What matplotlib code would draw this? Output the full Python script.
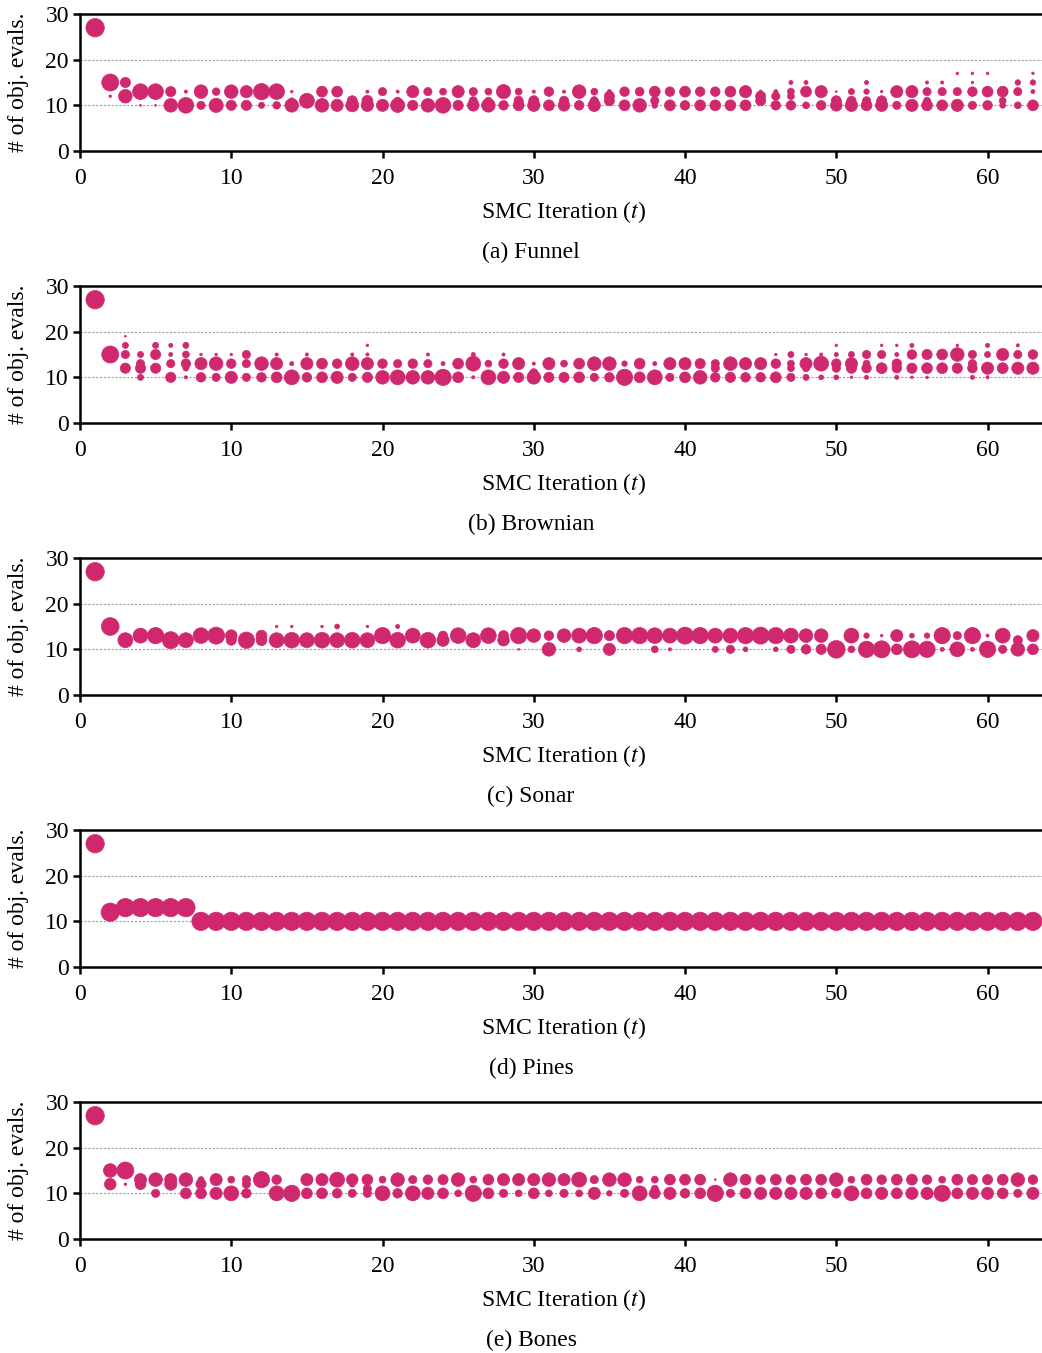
import matplotlib
matplotlib.use("Agg")
import matplotlib.pyplot as plt

plt.rcParams['font.family'] = 'Liberation Serif'
plt.rcParams['mathtext.fontset'] = 'stix'

# each panel: one entry per SMC iteration t=1..63, list of (# obj. evals, % of particles)
funnel = [
    [(27, 100)], [(15, 86), (12, 2)], [(15, 31), (12, 55)], [(13, 73), (10, 1)],
    [(13, 73), (10, 1)], [(13, 31), (10, 55)], [(13, 3), (10, 73)], [(13, 55), (10, 20)],
    [(13, 17), (10, 60)], [(13, 55), (10, 31)], [(13, 44), (10, 31)], [(13, 79), (10, 11)],
    [(13, 73), (10, 17)], [(13, 2), (11, 10), (10, 55)], [(11, 66)], [(13, 35), (10, 55)],
    [(13, 35), (10, 44)], [(11, 30), (10, 50)], [(13, 3), (11, 35), (10, 45)], [(13, 20), (10, 44)],
    [(13, 3), (11, 15), (10, 60)], [(13, 44), (10, 31)], [(13, 20), (10, 55)], [(13, 14), (10, 73)],
    [(13, 44), (10, 31)], [(13, 20), (11, 20), (10, 40)], [(13, 14), (11, 15), (10, 55)], [(13, 60), (10, 27)],
    [(13, 14), (11, 25), (10, 35)], [(13, 3), (11, 30), (10, 45)], [(13, 27), (10, 35)], [(13, 3), (11, 25), (10, 40)],
    [(13, 55), (10, 27)], [(13, 14), (11, 20), (10, 45)], [(13, 5), (12, 30), (11, 30)], [(13, 27), (10, 35)],
    [(13, 23), (10, 55)], [(13, 35), (11, 20), (10, 10)], [(13, 27), (10, 35)], [(13, 35), (10, 27)],
    [(13, 27), (10, 35)], [(13, 27), (10, 35)], [(13, 35), (10, 35)], [(13, 44), (10, 35)],
    [(13, 3), (12, 30), (11, 30)], [(13, 5), (12, 20), (10, 27)], [(15, 5), (13, 14), (12, 14), (10, 27)], [(15, 5), (13, 35), (10, 14)],
    [(13, 44), (10, 27)], [(13, 1), (11, 30), (10, 40)], [(13, 11), (11, 25), (10, 45)], [(15, 5), (13, 9), (11, 20), (10, 35)],
    [(13, 2), (11, 30), (10, 45)], [(13, 44), (10, 20)], [(13, 44), (10, 44)], [(15, 3), (13, 20), (11, 15), (10, 35)],
    [(15, 3), (13, 20), (10, 35)], [(17, 2), (13, 20), (10, 44)], [(17, 2), (15, 2), (13, 27), (10, 20)], [(17, 2), (13, 35), (10, 27)],
    [(13, 35), (11, 14), (10, 10)], [(15, 9), (13, 20), (10, 14)], [(17, 2), (15, 9), (13, 5), (10, 35)],
]

brownian = [
    [(27, 100)], [(16, 2), (15, 86)], [(19, 1), (17, 11), (15, 20), (12, 31)], [(15, 11), (13, 20), (12, 31), (10, 11)],
    [(17, 11), (15, 31), (12, 31)], [(17, 5), (15, 5), (13, 20), (10, 31)], [(17, 11), (15, 14), (13, 27), (12, 10), (10, 3)], [(15, 2), (13, 44), (10, 27)],
    [(15, 2), (13, 55), (10, 20)], [(15, 2), (13, 27), (10, 44)], [(15, 20), (13, 20), (10, 20)], [(13, 55), (10, 27)],
    [(15, 3), (13, 44), (10, 35)], [(13, 5), (10, 66)], [(15, 3), (13, 44), (10, 27)], [(13, 35), (10, 35)],
    [(13, 27), (10, 44)], [(15, 3), (13, 55), (10, 20)], [(17, 2), (15, 3), (13, 44), (10, 31)], [(13, 27), (10, 55)],
    [(13, 20), (10, 66)], [(13, 27), (10, 55)], [(15, 3), (13, 20), (10, 55)], [(13, 5), (10, 79)],
    [(13, 35), (10, 35)], [(15, 5), (13, 66), (10, 3)], [(13, 14), (10, 66)], [(15, 3), (13, 27), (10, 44)],
    [(13, 44), (10, 31)], [(13, 3), (11, 20), (10, 55)], [(13, 44), (10, 31)], [(13, 14), (10, 31)],
    [(13, 35), (10, 35)], [(13, 55), (10, 20)], [(13, 55), (10, 27)], [(13, 9), (10, 79)],
    [(13, 35), (10, 35)], [(13, 5), (10, 66)], [(13, 44), (10, 20)], [(13, 44), (10, 35)],
    [(13, 31), (10, 55)], [(13, 20), (12, 20), (10, 27)], [(13, 55), (10, 31)], [(13, 44), (10, 27)],
    [(13, 44), (10, 27)], [(15, 2), (13, 27), (10, 35)], [(15, 11), (13, 14), (12, 14), (10, 20)], [(15, 2), (13, 44), (12, 15), (10, 11)],
    [(15, 3), (13, 66), (10, 7)], [(17, 2), (15, 5), (13, 27), (12, 20), (10, 7)], [(15, 11), (13, 44), (12, 31), (10, 2)], [(15, 20), (13, 14), (12, 27), (10, 5)],
    [(17, 2), (15, 20), (12, 35)], [(17, 2), (15, 5), (13, 27), (12, 27), (10, 5)], [(17, 5), (15, 27), (12, 31), (10, 2)], [(15, 31), (12, 35), (10, 2)],
    [(15, 35), (12, 35)], [(17, 2), (15, 55), (12, 31)], [(15, 20), (13, 20), (12, 27), (10, 5)], [(17, 5), (15, 11), (12, 44), (10, 3)],
    [(15, 44), (12, 35)], [(17, 3), (15, 20), (12, 44)], [(15, 27), (12, 44)],
]

sonar = [
    [(27, 100)], [(15, 93)], [(12, 66)], [(13, 66)],
    [(13, 79)], [(12, 86)], [(12, 66)], [(13, 73)],
    [(13, 86)], [(13, 40), (12, 30)], [(12, 79)], [(13, 35), (12, 35)],
    [(15, 2), (12, 66)], [(15, 2), (12, 73)], [(12, 66)], [(15, 2), (12, 73)],
    [(15, 7), (12, 66)], [(12, 73)], [(15, 2), (12, 66)], [(13, 79)],
    [(15, 5), (12, 73)], [(13, 66)], [(12, 73)], [(13, 25), (12, 45)],
    [(13, 73)], [(12, 66)], [(13, 73)], [(13, 30), (12, 40)],
    [(13, 79), (10, 1)], [(13, 55)], [(13, 27), (10, 55)], [(13, 55)],
    [(13, 66), (10, 7)], [(13, 79)], [(13, 31), (10, 44)], [(13, 79)],
    [(13, 79)], [(13, 73), (10, 14)], [(13, 66), (12, 3), (10, 3)], [(13, 86)],
    [(13, 79), (12, 3)], [(13, 66), (10, 11)], [(13, 66), (10, 20)], [(13, 79), (10, 7)],
    [(13, 86)], [(13, 79), (10, 7)], [(13, 66), (10, 20)], [(13, 55), (10, 27)],
    [(13, 55), (10, 31)], [(10, 93)], [(13, 66), (10, 14)], [(13, 9), (10, 79)],
    [(13, 2), (10, 86)], [(13, 44), (10, 35)], [(13, 7), (10, 86)], [(13, 9), (10, 79)],
    [(13, 79), (10, 5)], [(13, 20), (10, 66)], [(13, 79), (10, 5)], [(13, 3), (10, 79)],
    [(13, 66), (10, 20)], [(12, 25), (10, 55)], [(13, 44), (10, 35)],
]

pines = [[(27, 100)], [(12, 100)]] + [[(13, 100)]] * 5 + [[(10, 100)]] * 56

bones = [
    [(27, 100)], [(15, 55), (12, 40)], [(15, 86), (12, 2)], [(13, 44), (12, 35)],
    [(13, 55), (10, 20)], [(13, 44), (12, 44)], [(13, 55), (10, 35)], [(13, 11), (12, 31), (10, 35)],
    [(13, 44), (10, 44)], [(13, 14), (10, 66)], [(13, 20), (12, 20), (10, 27)], [(13, 79)],
    [(13, 27), (10, 66)], [(10, 79)], [(13, 44), (10, 35)], [(13, 44), (10, 35)],
    [(13, 66), (10, 27)], [(13, 40), (12, 10), (10, 20)], [(13, 35), (11, 20), (10, 20)], [(13, 14), (10, 66)],
    [(13, 55), (10, 27)], [(13, 20), (10, 66)], [(13, 27), (10, 44)], [(13, 31), (10, 35)],
    [(13, 55), (10, 14)], [(13, 14), (10, 79)], [(13, 35), (10, 35)], [(13, 44), (10, 20)],
    [(13, 44), (10, 14)], [(13, 44), (10, 35)], [(13, 55), (10, 14)], [(13, 44), (10, 20)],
    [(13, 66), (10, 14)], [(13, 20), (10, 44)], [(13, 55), (10, 9)], [(13, 55), (10, 20)],
    [(13, 14), (10, 66)], [(13, 14), (11, 15), (10, 35)], [(13, 35), (10, 44)], [(13, 35), (10, 27)],
    [(13, 35), (10, 35)], [(13, 1), (10, 79)], [(13, 55), (10, 20)], [(13, 35), (10, 35)],
    [(13, 27), (10, 44)], [(13, 35), (10, 44)], [(13, 27), (10, 44)], [(13, 35), (10, 44)],
    [(13, 35), (10, 35)], [(13, 55), (10, 27)], [(13, 14), (10, 66)], [(13, 35), (10, 35)],
    [(13, 27), (10, 44)], [(13, 35), (10, 35)], [(13, 35), (10, 44)], [(13, 27), (10, 44)],
    [(13, 14), (10, 79)], [(13, 35), (10, 35)], [(13, 31), (10, 44)], [(13, 31), (10, 44)],
    [(13, 35), (10, 35)], [(13, 55), (10, 20)], [(13, 27), (10, 44)],
]

panels = [funnel, brownian, sonar, pines, bones]
captions = ['(a) Funnel', '(b) Brownian', '(c) Sonar', '(d) Pines', '(e) Bones']

pink = '#d0286f'
fs = 17
W, H = 1042, 1353
fig = plt.figure(figsize=(W / 100, H / 100), dpi=100)

for k, data in enumerate(panels):
    ybot = 151 + 272 * k
    ax = fig.add_axes([80 / W, 1 - ybot / H, 962 / W, 137 / H])
    xs, ys, ss = [], [], []
    for t, pts in enumerate(data, start=1):
        for ev, pct in pts:
            xs.append(t)
            ys.append(ev)
            ss.append(pct * 1.75)
    ax.scatter(xs, ys, s=ss, c=pink, edgecolors=pink, linewidths=0.5,
               zorder=3, clip_on=False)
    for g in (10, 20):
        ax.axhline(g, color='#a0a0a0', lw=0.8, ls=(0, (2, 1.5)), zorder=1)
    ax.set_xlim(0, 63.6)
    ax.set_ylim(0, 30)
    ax.set_xticks([0, 10, 20, 30, 40, 50, 60])
    ax.set_yticks([0, 10, 20, 30])
    ax.spines['right'].set_visible(False)
    for sp in ('left', 'top', 'bottom'):
        ax.spines[sp].set_linewidth(1.8)
    ax.tick_params(axis='both', labelsize=fs, length=5, width=1.8)
    ax.tick_params(axis='x', pad=7)
    ax.tick_params(axis='y', pad=3)
    ax.set_xlabel('SMC Iteration ($t$)', fontsize=fs, va='center')
    ax.xaxis.set_label_coords(0.503, -0.445)
    ax.set_ylabel('# of obj. evals.', fontsize=fs, va='center')
    ax.yaxis.set_label_coords(-0.064, 0.5)
    fig.text(531 / W, 1 - (ybot + 101) / H, captions[k], fontsize=fs,
             ha='center', va='center')

fig.savefig('out.png', dpi=100)
